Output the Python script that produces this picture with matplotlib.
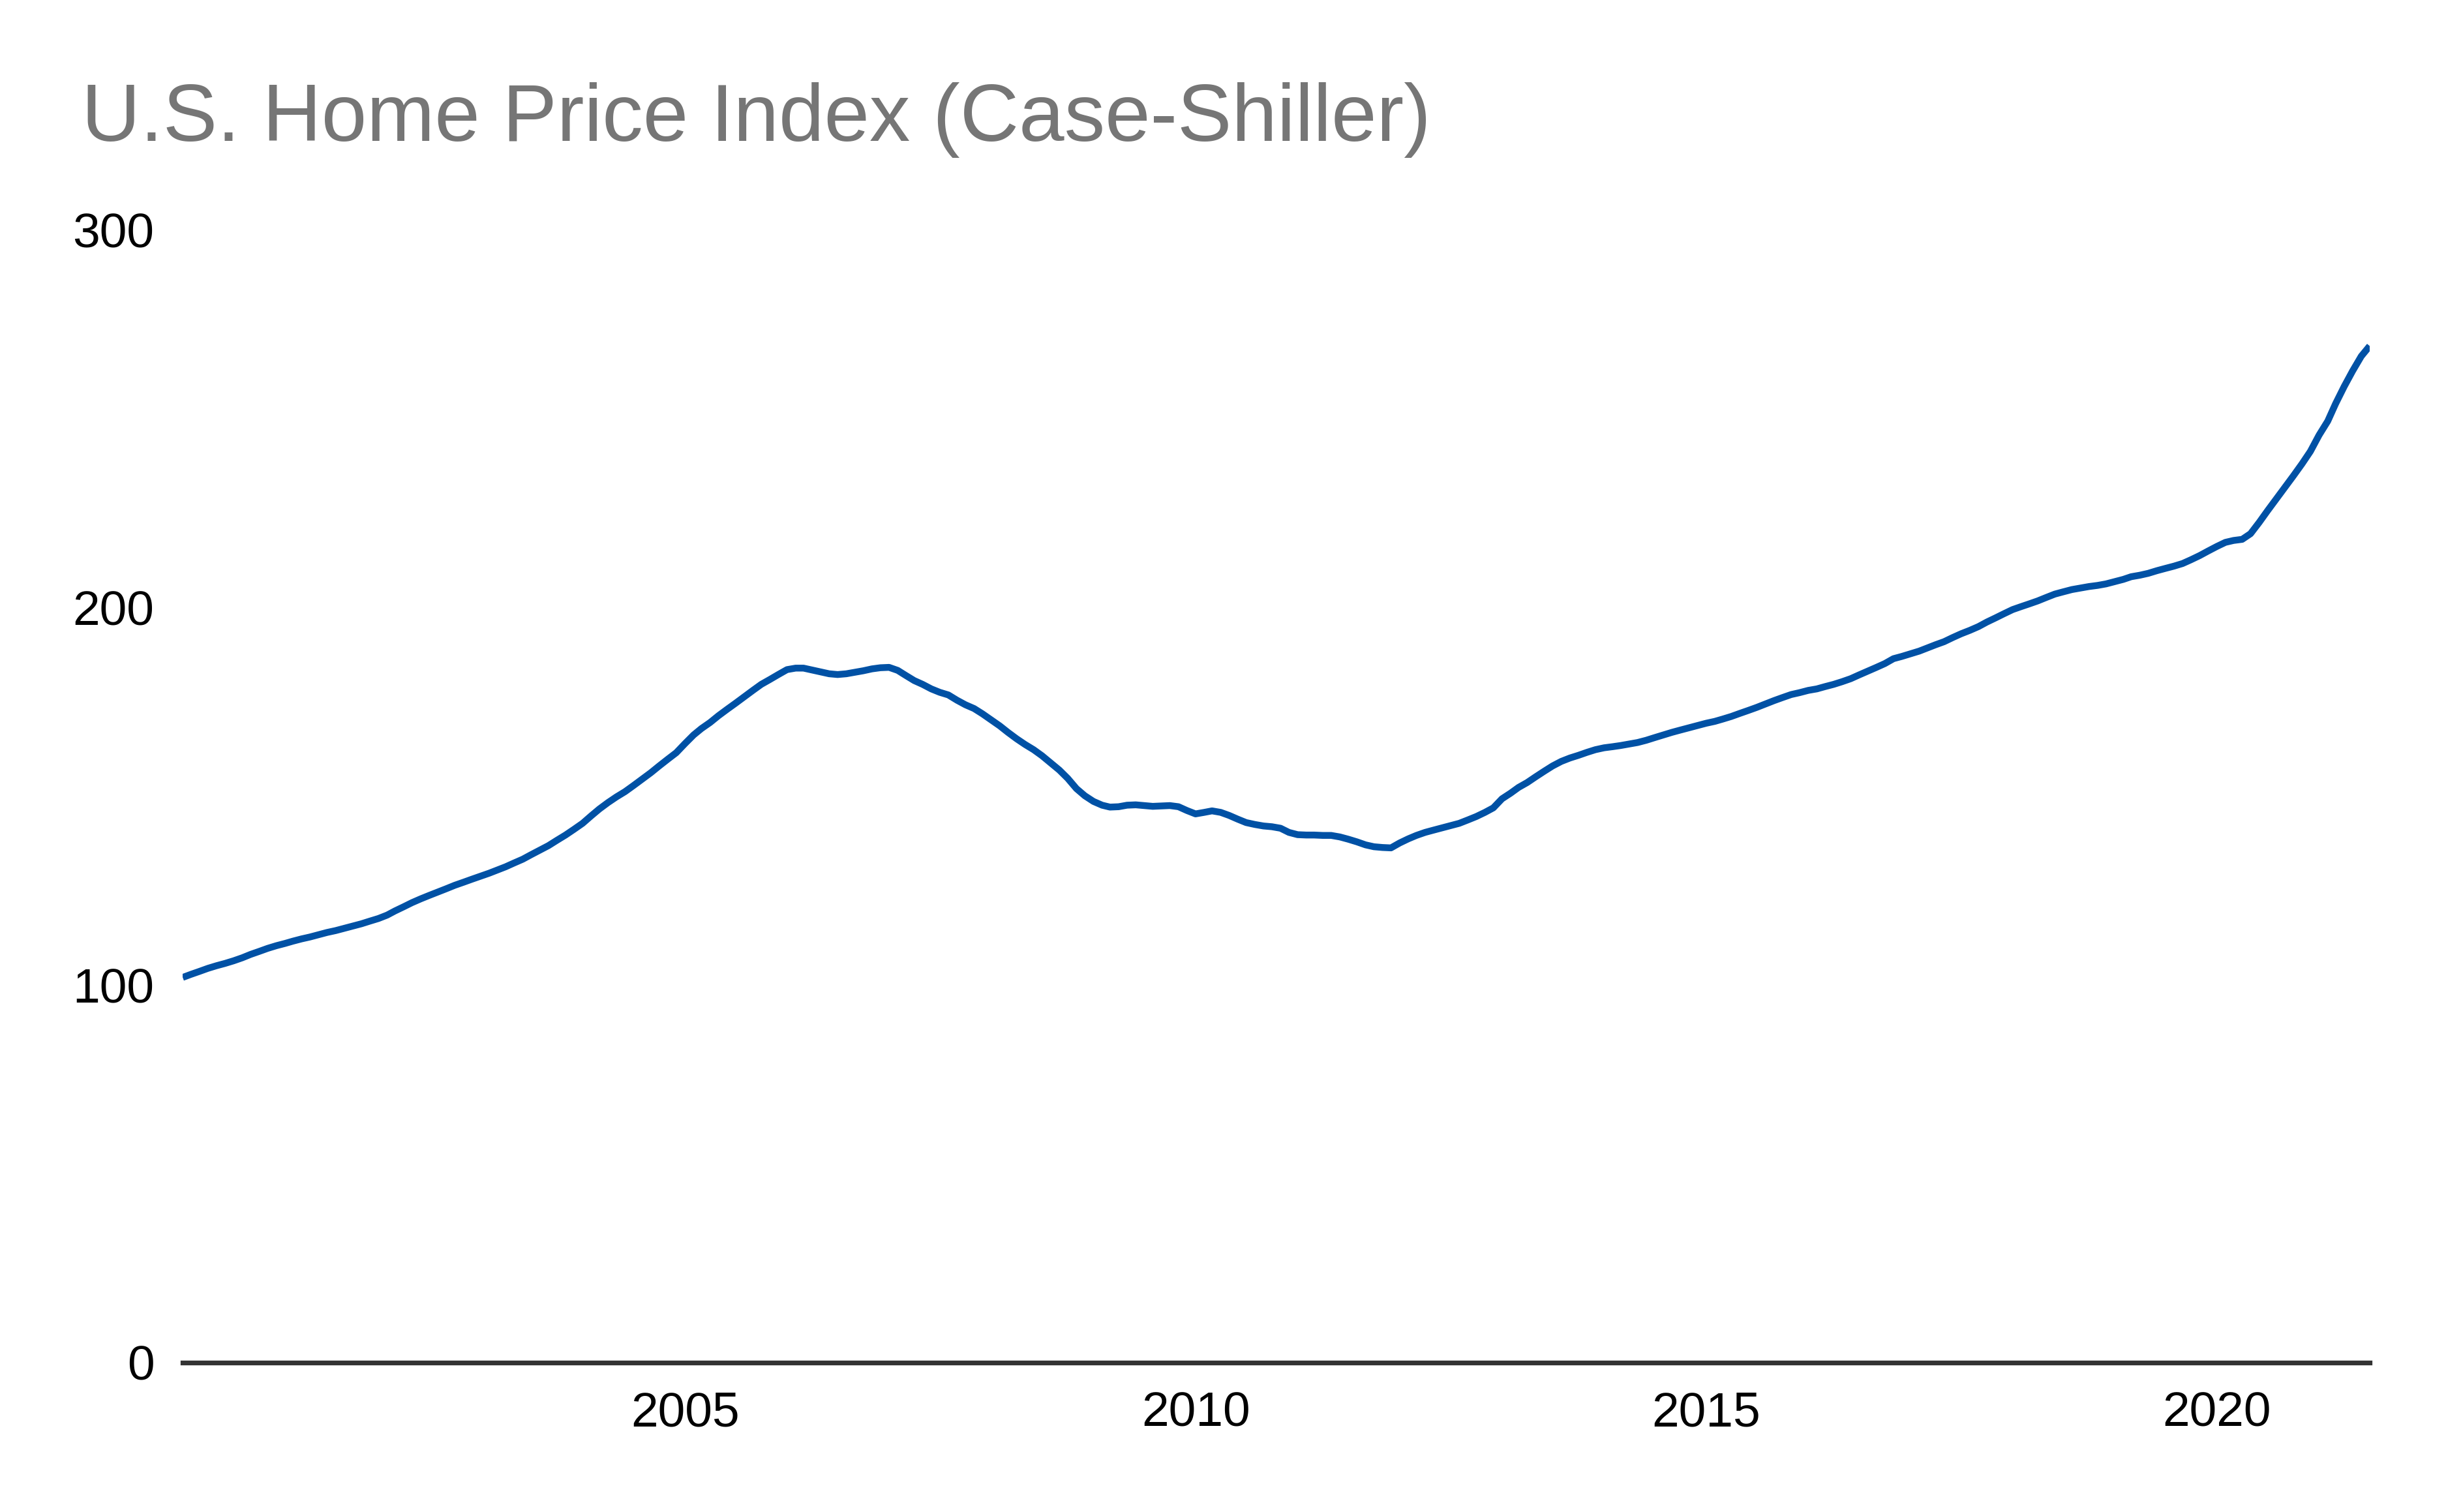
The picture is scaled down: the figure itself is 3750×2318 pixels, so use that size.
import matplotlib
matplotlib.use("Agg")
import matplotlib.pyplot as plt
import matplotlib.dates as mdates
import numpy as np
import pandas as pd


# monthly index values, Jan 2000 - Jul 2021
hpi_2000 = [102.0, 102.8, 103.6, 104.4, 105.1, 105.7, 106.4, 107.2, 108.1, 108.9, 109.7, 110.4]
hpi_2001 = [111.0, 111.6, 112.2, 112.7, 113.3, 113.9, 114.4, 115.0, 115.6, 116.2, 116.9, 117.6]
hpi_2002 = [118.5, 119.6, 120.7, 121.8, 122.8, 123.7, 124.6, 125.5, 126.4, 127.2, 128.0, 128.8]
hpi_2003 = [129.6, 130.4, 131.3, 132.3, 133.3, 134.5, 135.7, 136.9, 138.3, 139.7, 141.2, 142.8]
hpi_2004 = [144.8, 146.6, 148.3, 149.8, 151.2, 152.8, 154.5, 156.2, 158.0, 159.8, 161.5, 163.9]
hpi_2005 = [166.2, 167.9, 169.5, 171.3, 173.0, 174.6, 176.3, 178.0, 179.6, 180.9, 182.2, 183.5]
hpi_2006 = [183.9, 183.9, 183.4, 182.9, 182.4, 182.2, 182.4, 182.8, 183.2, 183.7, 184.0, 184.1]
hpi_2007 = [183.3, 182.0, 180.6, 179.6, 178.4, 177.5, 176.8, 175.4, 174.2, 173.2, 171.8, 170.2]
hpi_2008 = [168.6, 166.9, 165.2, 163.7, 162.3, 160.7, 158.8, 156.9, 154.7, 152.0, 150.1, 148.6]
hpi_2009 = [147.6, 147.1, 147.2, 147.6, 147.7, 147.5, 147.3, 147.4, 147.5, 147.2, 146.2, 145.3]
hpi_2010 = [145.7, 146.1, 145.7, 144.9, 143.9, 143.0, 142.5, 142.1, 141.9, 141.5, 140.4, 139.8]
hpi_2011 = [139.7, 139.7, 139.6, 139.6, 139.2, 138.6, 137.9, 137.1, 136.6, 136.4, 136.3, 137.6]
hpi_2012 = [138.7, 139.6, 140.4, 141.0, 141.6, 142.2, 142.8, 143.7, 144.6, 145.7, 146.9, 149.3]
hpi_2013 = [150.8, 152.3, 153.6, 155.1, 156.6, 158.0, 159.2, 160.1, 160.8, 161.6, 162.3, 162.8]
hpi_2014 = [163.1, 163.4, 163.8, 164.2, 164.8, 165.5, 166.2, 166.9, 167.5, 168.1, 168.7, 169.3]
hpi_2015 = [169.8, 170.4, 171.1, 171.9, 172.7, 173.5, 174.4, 175.3, 176.1, 176.9, 177.4, 178.0]
hpi_2016 = [178.4, 179.0, 179.6, 180.3, 181.1, 182.1, 183.1, 184.1, 185.1, 186.4, 187.0, 187.7]
hpi_2017 = [188.4, 189.2, 190.1, 190.9, 192.0, 193.0, 193.9, 194.9, 196.1, 197.2, 198.3, 199.4]
hpi_2018 = [200.2, 200.9, 201.7, 202.6, 203.5, 204.1, 204.7, 205.1, 205.5, 205.8, 206.2, 206.8]
hpi_2019 = [207.4, 208.1, 208.5, 209.0, 209.7, 210.3, 210.9, 211.6, 212.6, 213.7, 214.9, 216.1]
hpi_2020 = [217.2, 217.7, 218.0, 219.5, 222.5, 225.6, 228.7, 231.8, 234.8, 238.0, 241.3, 245.6]
hpi_2021 = [249.3, 253.9, 258.5, 262.6, 266.5, 269.2]

year_ticks = [2005, 2010, 2015, 2020]
y_ticks = [0, 100, 200, 300]
title = "U.S. Home Price Index (Case-Shiller)"


#------------------------------------------------------------------------------
def main():
    values = (hpi_2000 + hpi_2001 + hpi_2002 + hpi_2003 + hpi_2004 + hpi_2005
              + hpi_2006 + hpi_2007 + hpi_2008 + hpi_2009 + hpi_2010 + hpi_2011
              + hpi_2012 + hpi_2013 + hpi_2014 + hpi_2015 + hpi_2016 + hpi_2017
              + hpi_2018 + hpi_2019 + hpi_2020 + hpi_2021)
    dates = pd.date_range("2000-01-31", periods=len(values), freq="ME")
    graficar(dates, np.array(values))
#------------------------------------------------------------------------------


#------------------------------------------------------------------------------
def graficar(dates, values):
    plt.rcParams['font.family'] = ['Liberation Sans', 'DejaVu Sans']

    fig = plt.figure(figsize=(12.5, 7.7267), dpi=300)
    ax = fig.add_axes([0.0747, 0.0988, 0.9688 - 0.0747, 0.8481 - 0.0988])

    ax.plot(dates, values, color='#0051a5', linewidth=2.5,
            solid_capstyle='butt', solid_joinstyle='round')

    ax.set_xlim(dates[0], dates[-1])
    ax.set_ylim(0, 300)

    ax.set_xticks([pd.Timestamp(f"{y}-01-01") for y in year_ticks])
    ax.xaxis.set_major_formatter(mdates.DateFormatter('%Y'))
    ax.set_yticks(y_ticks)

    ax.tick_params(axis='both', length=0, labelsize=18, colors='black')
    ax.tick_params(axis='x', pad=10.5)
    ax.tick_params(axis='y', pad=10.5)

    for side in ['top', 'right', 'left']:
        ax.spines[side].set_visible(False)
    ax.spines['bottom'].set_color('#333333')
    ax.spines['bottom'].set_linewidth(1.75)

    fig.text(0.0333, 1 - 216 / 2318, title, fontsize=30, color='#767676',
             ha='left', va='baseline')

    fig.savefig('out.png', dpi=300, facecolor='white')
#------------------------------------------------------------------------------


main()
